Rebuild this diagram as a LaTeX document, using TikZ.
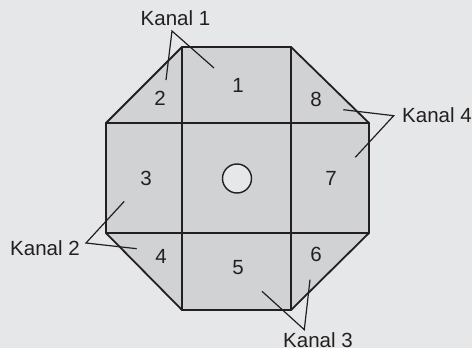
\documentclass[tikz,border=0pt]{standalone}
\usepackage{fontspec}
\setmainfont{Liberation Sans}
\usetikzlibrary{positioning,calc}
\definecolor{bggray}{RGB}{230,231,232}
\definecolor{cellgray}{RGB}{209,210,212}
\definecolor{inkline}{RGB}{35,31,32}
\begin{document}
\begin{tikzpicture}[x=1pt,y=-1pt,
  num/.style={inner sep=0pt, font=\fontsize{20.5}{24}\selectfont, text=inkline},
  kanal/.style={inner sep=0pt, font=\fontsize{20.5}{24}\selectfont, text=inkline},
  lead/.style={draw=inkline, line width=1.2pt}]
\fill[bggray] (0,0) rectangle (472,348);
\useasboundingbox (0,0) rectangle (472,348);
% octagon
\filldraw[fill=cellgray, draw=inkline, line width=1.8pt, line join=miter]
  (182,47) -- (291,47) -- (369,123) -- (369,233) -- (291,310) -- (182,310) -- (106,233) -- (106,123) -- cycle;
\draw[inkline, line width=1.6pt] (182,47) -- (182,310);
\draw[inkline, line width=1.6pt] (291,47) -- (291,310);
\draw[inkline, line width=1.6pt] (106,123) -- (369,123);
\draw[inkline, line width=1.6pt] (106,233) -- (369,233);
\node[circle, draw=inkline, fill=bggray, line width=1.4pt, minimum size=29pt, inner sep=0pt] (hole) at (237,178.5) {};
% cell numbers
\node[num] (r1) at (238,85) {1};
\node[num] (r2) at (160,98) {2};
\node[num] (r3) at (146,178) {3};
\node[num] (r4) at (161,256) {4};
\node[num] (r5) at (238,268) {5};
\node[num] (r6) at (316,254) {6};
\node[num] (r7) at (331,178) {7};
\node[num] (r8) at (316,99) {8};
% channel labels
\node[kanal] (k1) at (175.5,18.5) {Kanal 1};
\node[kanal] (k2) at (45,248) {Kanal 2};
\node[kanal] (k3) at (318,340.5) {Kanal 3};
\node[kanal, anchor=west] (k4) at (402,115) {Kanal 4};
\coordinate (t1) at (172,31);
\coordinate (a1) at (166,80);
\coordinate (b1) at (214,68);
\coordinate (t2) at (86,243);
\coordinate (a2) at (124.3,201.3);
\coordinate (b2) at (136.7,248.7);
\coordinate (t3) at (304.3,329.7);
\coordinate (a3) at (262,291.3);
\coordinate (b3) at (310,279.7);
\coordinate (t4) at (393.7,115.7);
\coordinate (a4) at (343.3,109.7);
\coordinate (b4) at (355.3,157.3);
\draw[lead] (a1) -- (t1) -- (b1);
\draw[lead] (a2) -- (t2) -- (b2);
\draw[lead] (a3) -- (t3) -- (b3);
\draw[lead] (a4) -- (t4) -- (b4);
\end{tikzpicture}
\end{document}
